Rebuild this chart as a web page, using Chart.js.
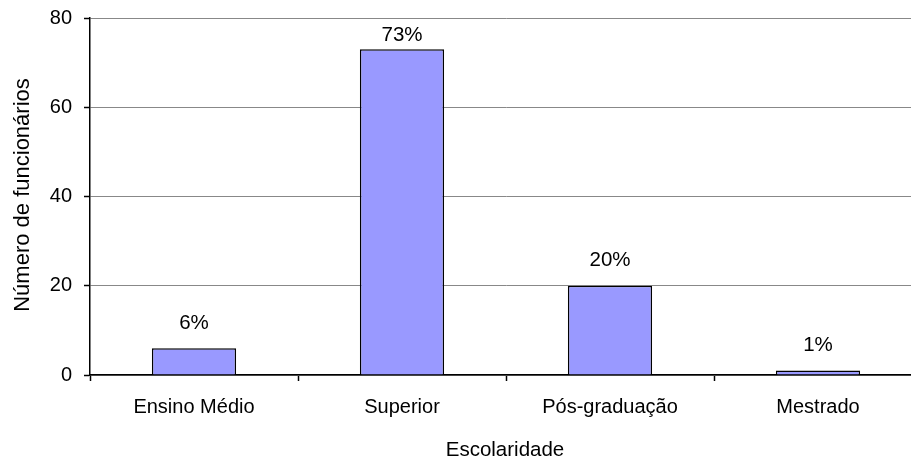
<!DOCTYPE html>
<html lang="pt">
<head>
    <meta charset="UTF-8">
    <title>Escolaridade dos funcionários</title>
    <script src="https://cdn.jsdelivr.net/npm/chart.js"></script>
    <style>
        * {
            margin: 0;
            padding: 0;
            box-sizing: border-box;
        }
        html, body {
            width: 911px;
            height: 463px;
            overflow: hidden;
            background: #fff;
        }
        .chart-box {
            position: relative;
            width: 922px;
            height: 463px;
        }
    </style>
</head>
<body>
    <div class="chart-box">
        <canvas id="eduChart"></canvas>
    </div>

    <script>
        const categories = ['Ensino Médio', 'Superior', 'Pós-graduação', 'Mestrado'];
        const employees = [6, 73, 20, 1];
        const shareLabels = ['6%', '73%', '20%', '1%'];
        const yTicks = [0, 20, 40, 60, 80];

        const FONT = "'Liberation Sans', Arial, sans-serif";
        const fontSize = 20;

        // percentage text above each bar, pushed down if it would hit the top
        const barLabels = {
            id: 'barLabels',
            afterDatasetsDraw(chart) {
                const ctx = chart.ctx;
                const meta = chart.getDatasetMeta(0);
                ctx.save();
                ctx.font = '20.5px ' + FONT;
                ctx.fillStyle = '#000';
                ctx.textAlign = 'center';
                ctx.textBaseline = 'middle';
                meta.data.forEach((bar, i) => {
                    const y = Math.max(bar.y - 25, chart.chartArea.top + 17);
                    ctx.fillText(shareLabels[i], bar.x, y);
                });
                ctx.restore();
            }
        };

        // axis titles
        const axisTitles = {
            id: 'axisTitles',
            afterDraw(chart) {
                const ctx = chart.ctx;
                ctx.save();
                ctx.fillStyle = '#000';
                ctx.textAlign = 'center';
                ctx.textBaseline = 'middle';
                ctx.font = '20.5px ' + FONT;
                ctx.fillText('Escolaridade', 505, 450);
                ctx.font = '22px ' + FONT;
                ctx.translate(23, 195);
                ctx.rotate(-Math.PI / 2);
                ctx.fillText('Número de funcionários', 0, 0);
                ctx.restore();
            }
        };

        new Chart(document.getElementById('eduChart'), {
            type: 'bar',
            data: {
                labels: categories,
                datasets: [{
                    data: employees,
                    backgroundColor: '#9999FF',
                    borderColor: '#000',
                    borderWidth: 1.5,
                    barPercentage: 0.81,
                    categoryPercentage: 0.5
                }]
            },
            options: {
                responsive: true,
                maintainAspectRatio: false,
                animation: false,
                layout: { padding: { top: 18, left: 0, right: 0, bottom: 0 } },
                plugins: {
                    legend: { display: false },
                    tooltip: { enabled: false }
                },
                scales: {
                    x: {
                        afterFit(scale) { scale.height = 88; },
                        grid: {
                            offset: true,
                            drawOnChartArea: false,
                            drawTicks: true,
                            tickLength: 6,
                            tickColor: '#000',
                            tickWidth: 1.5
                        },
                        border: { color: '#000', width: 1.5 },
                        ticks: {
                            color: '#000',
                            padding: 14,
                            maxRotation: 0,
                            font: { family: FONT, size: fontSize }
                        }
                    },
                    y: {
                        min: 0,
                        max: 80,
                        afterFit(scale) {
                            scale.width = 90;
                            // labels may overhang the plot edge; don't reserve room for them
                            scale.paddingTop = 0;
                            scale.paddingBottom = 0;
                        },
                        afterBuildTicks(scale) {
                            scale.ticks = yTicks.map(v => ({ value: v }));
                        },
                        grid: {
                            color: '#888888',
                            lineWidth: 1,
                            drawTicks: true,
                            tickLength: 6,
                            tickColor: '#000',
                            tickWidth: 1.5
                        },
                        border: { color: '#000', width: 1.5 },
                        ticks: {
                            color: '#000',
                            padding: 12,
                            font: { family: FONT, size: fontSize }
                        }
                    }
                }
            },
            plugins: [barLabels, axisTitles]
        });
    </script>
</body>
</html>
